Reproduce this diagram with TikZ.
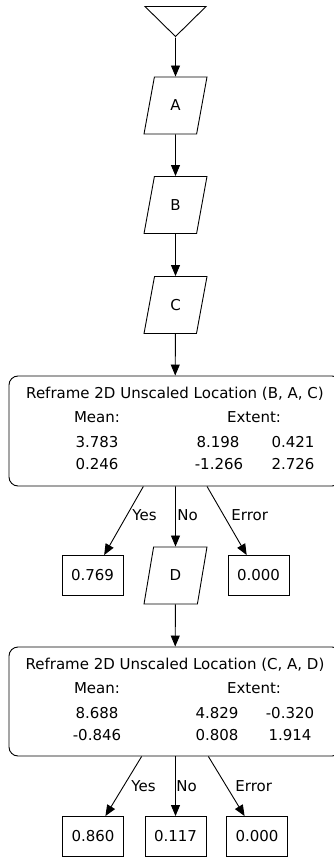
\documentclass[tikz,border=0pt]{standalone}
\usepackage{fontspec}
\setmainfont{DejaVu Sans}
\usetikzlibrary{shapes.geometric, arrows.meta}

\begin{document}
\begin{tikzpicture}[x=1pt, y=-1pt, line width=0.9pt, font=\fontsize{15}{18}\selectfont,
	>={Triangle[length=11pt, width=9pt]},
	src/.style={shape=isosceles triangle, isosceles triangle stretches, shape border rotate=270, draw=black, inner sep=0pt, minimum width=61pt, minimum height=30pt},
	io/.style={shape=trapezium, trapezium left angle=77, trapezium right angle=103, trapezium stretches=true, draw=black, inner sep=0pt, minimum width=63pt, minimum height=57pt},
	test/.style={shape=rectangle, rounded corners=9pt, draw=black, minimum width=332pt, minimum height=110pt},
	val/.style={shape=rectangle, draw=black, inner sep=0pt, minimum width=61pt, minimum height=40pt},
	txt/.style={anchor=base, inner sep=0pt},
	lbl/.style={anchor=base west, inner sep=0pt}]
	\useasboundingbox (0,0) rectangle (334,858);

		\node[src] (S) at (175.5,19) {};
		\node[io] (A) at (175.5,105.5) {A};
		\node[io] (B) at (175.5,205) {B};
		\node[io] (C) at (175.5,305) {C};
		\node[test] (R1) at (175,431) {};
		\node[val] (Y1) at (92.5,575.5) {0.769};
		\node[io] (D) at (175.5,575.5) {D};
		\node[val] (E1) at (258.5,575.5) {0.000};
		\node[test, minimum height=109pt] (R2) at (175,701.5) {};
		\node[val] (Y2) at (93,836.5) {0.860};
		\node[val] (N2) at (175.5,836.5) {0.117};
		\node[val] (E2) at (257,836.5) {0.000};

		\node[txt] (T1) at (175,398.5) {Reframe 2D Unscaled Location (B, A, C)};
		\node[txt] (M1) at (97,422.5) {Mean:};
		\node[txt] (X1) at (254,422.5) {Extent:};
		\node[txt] (a1) at (97,447.5) {3.783};
		\node[txt] (b1) at (218,447.5) {8.198};
		\node[txt] (c1) at (293,447.5) {0.421};
		\node[txt] (d1) at (97,469.5) {0.246};
		\node[txt] (e1) at (219,469.5) {-1.266};
		\node[txt] (f1) at (293,469.5) {2.726};

		\node[txt] (T2) at (175,669) {Reframe 2D Unscaled Location (C, A, D)};
		\node[txt] (M2) at (97,693) {Mean:};
		\node[txt] (X2) at (254,693) {Extent:};
		\node[txt] (a2) at (97,718) {8.688};
		\node[txt] (b2) at (217,718) {4.829};
		\node[txt] (c2) at (290,718) {-0.320};
		\node[txt] (d2) at (97,740) {-0.846};
		\node[txt] (e2) at (217,740) {0.808};
		\node[txt] (f2) at (290,740) {1.914};

		\node[lbl] (L1) at (132,520.5) {Yes};
		\node[lbl] (L2) at (177,520.5) {No};
		\node[lbl] (L3) at (231,520.5) {Error};
		\node[lbl] (L4) at (131,791.5) {Yes};
		\node[lbl] (L5) at (176,791.5) {No};
		\node[lbl] (L6) at (235,791.5) {Error};

		\path[->](S) edge (A);
		\path[->](A) edge (B);
		\path[->](B) edge (C);
		\path[->](C) edge (R1);
		\path[->](R1) edge (Y1);
		\path[->](R1.south -| D) edge (D);
		\path[->](R1) edge (E1);
		\path[->](D) edge (R2);
		\path[->](R2) edge (Y2);
		\path[->](R2.south -| N2) edge (N2);
		\path[->](R2) edge (E2);

	\end{tikzpicture}
\end{document}
